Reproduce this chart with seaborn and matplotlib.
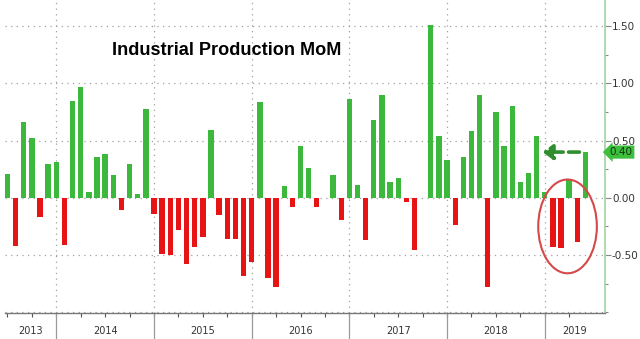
import matplotlib
matplotlib.use("Agg")
import matplotlib.pyplot as plt
import matplotlib.transforms as mtransforms
from matplotlib.patches import Ellipse
from matplotlib.ticker import MultipleLocator, FixedLocator, NullFormatter
import pandas as pd
import seaborn as sns

# Monthly change in industrial production, % (Jun 2013 - May 2019)
months = pd.period_range("2013-06", periods=72, freq="M").strftime("%Y-%m").tolist()
mom_change = [
    0.21, -0.42, 0.66, 0.52, -0.17, 0.30,                                   # Jun-Nov 2013
    0.31, -0.41, 0.85, 0.97, 0.05, 0.36, 0.38, 0.20, -0.11, 0.30, 0.03, 0.78,   # Dec 2013 - Nov 2014
    -0.14, -0.49, -0.50, -0.28, -0.58, -0.43, -0.34, 0.59, -0.15, -0.36, -0.36, -0.68,
    -0.56, 0.84, -0.70, -0.78, 0.10, -0.08, 0.45, 0.26, -0.08, 0.00, 0.20, -0.19,
    0.86, 0.11, -0.37, 0.68, 0.90, 0.14, 0.17, -0.04, -0.46, 0.00, 1.51, 0.54,
    0.33, -0.24, 0.36, 0.58, 0.90, -0.78, 0.75, 0.45, 0.80, 0.14, 0.22, 0.54,
    0.05, -0.43, -0.44, 0.16, -0.39, 0.40,                                   # Dec 2018 - May 2019
]
years = ["2013", "2014", "2015", "2016", "2017", "2018", "2019"]
y_ticks = [-0.5, 0.0, 0.5, 1.0, 1.5]

GREEN = "#3cb83c"
RED = "#e61414"
GRID = "#a0a0a0"
BAR_WIDTH = 0.66

df = pd.DataFrame({"month": months, "change": mom_change})
bar_colors = [GREEN if v > 0 else (RED if v < 0 else "#b0b0b0") for v in mom_change]

sns.set_style("white")
plt.rcParams["font.family"] = ["Liberation Sans", "DejaVu Sans"]

fig = plt.figure(figsize=(6.4, 3.39), dpi=100)
ax = fig.add_axes([5 / 640, 25.7 / 339, 600 / 640, 313.3 / 339])

sns.barplot(data=df, x="month", y="change", hue="month", palette=bar_colors,
            dodge=False, width=BAR_WIDTH, saturation=1, legend=False, ax=ax)

# keep every bar at full slot width, no outline
for i, bar in enumerate(ax.patches):
    bar.set_width(BAR_WIDTH)
    bar.set_x(i - BAR_WIDTH / 2)
    bar.set_linewidth(0)

ax.set_xlim(-0.3, 73.4)
ax.set_ylim(-1.01, 1.73)
ax.set_xlabel("")
ax.set_ylabel("")

# horizontal dotted grid at the labelled levels
for yv in y_ticks + [-1.0]:
    ax.axhline(yv, color=GRID, lw=0.9, ls=(0, (1, 3.5)), zorder=0)

# year boundaries: dotted inside the plot, solid separators under the axis
dec_pos = [i for i, m in enumerate(months) if m.endswith("-12")]
trans_x = mtransforms.blended_transform_factory(ax.transData, ax.transAxes)
for p in dec_pos:
    ax.axvline(p, color=GRID, lw=0.9, ls=(0, (1, 3.5)), zorder=0)
    ax.plot([p, p], [0, -0.09], transform=trans_x, color="#9a9a9a", lw=0.9, clip_on=False)

# year labels centred in their visible span
x0, x1 = ax.get_xlim()
edges = [x0] + dec_pos + [x1]
for yr, a, b in zip(years, edges[:-1], edges[1:]):
    ax.text((a + b) / 2, -0.058, yr, transform=trans_x, ha="center", va="center",
            fontsize=7, color="#333333", family=["DejaVu Sans"])

# quarterly ticks along the time axis
ax.xaxis.set_major_locator(FixedLocator([i for i in range(0, len(months), 3)]))
ax.xaxis.set_major_formatter(NullFormatter())
ax.tick_params(axis="x", direction="out", length=3, width=0.8, color="#555555", bottom=True)

# value axis on the right
ax.yaxis.tick_right()
ax.yaxis.set_major_locator(FixedLocator(y_ticks))
ax.yaxis.set_minor_locator(MultipleLocator(0.25))
ax.set_yticklabels([f"{v:.2f}" for v in y_ticks])
ax.tick_params(axis="y", which="major", length=4, width=0.8, color="#888888",
               labelsize=7.5, labelcolor="#333333", pad=1)
ax.tick_params(axis="y", which="minor", length=2.5, width=0.8, color="#888888", right=True)
for lab in ax.get_yticklabels():
    lab.set_family("DejaVu Sans")

for side in ("left", "top"):
    ax.spines[side].set_visible(False)
ax.spines["right"].set_color("#9fd49f")
ax.spines["right"].set_linewidth(1.2)
ax.spines["bottom"].set_color("#777777")
ax.spines["bottom"].set_linewidth(1.0)

# title
ax.text(0.178, 0.84, "Industrial Production MoM", transform=ax.transAxes,
        fontsize=13.1, fontweight="bold", color="black", va="center", ha="left")

# latest value tag on the right axis
latest = mom_change[-1]
trans_y = mtransforms.blended_transform_factory(ax.transAxes, ax.transData)
ax.text(1.008, latest, f"{latest:.2f}", transform=trans_y, ha="left", va="center",
        fontsize=7.5, color="#143314", family=["DejaVu Sans"],
        bbox=dict(boxstyle="larrow,pad=0.15", fc="#3cbf3c", ec="none"), clip_on=False)

# dashed arrow pointing at the latest level
ax.annotate("", xy=(65.4, latest), xytext=(70.6, latest),
            arrowprops=dict(arrowstyle="-|>,head_length=0.6,head_width=0.45",
                            ls=(0, (3, 1.5)), lw=2.6, color="#2f8f2f"))

# ring around the 2019 readings
ax.add_patch(Ellipse((68.8, -0.25), width=7.2, height=0.82, angle=0,
                     fill=False, ec="#d44a4a", lw=1.5, zorder=5))

fig.savefig("out.png", dpi=100)
